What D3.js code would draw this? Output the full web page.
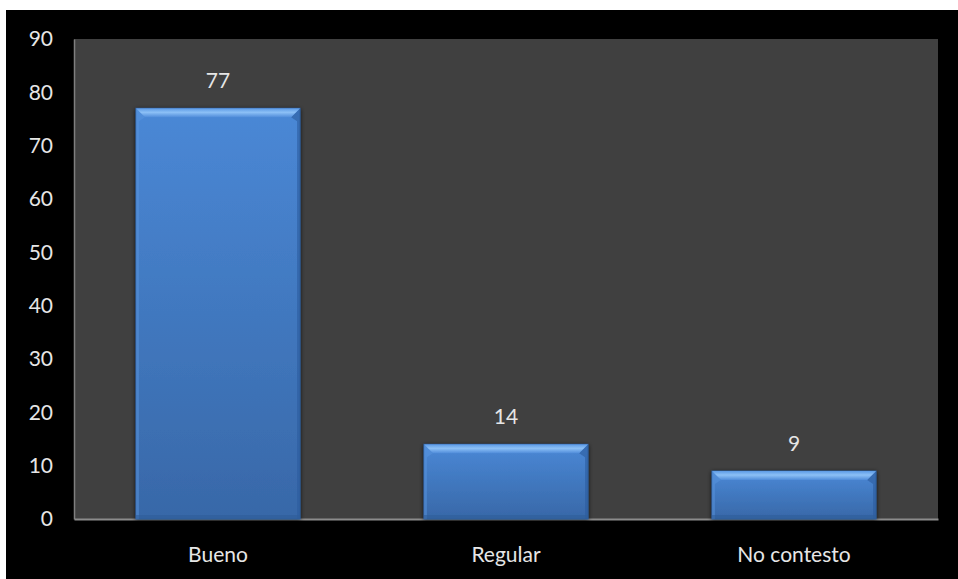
<!DOCTYPE html>
<html>
<head>
<meta charset="utf-8">
<script src="https://cdn.jsdelivr.net/npm/d3@7"></script>
<style>
  html, body { margin: 0; padding: 0; background: #ffffff; }
  svg { display: block; }
</style>
</head>
<body>
<svg id="chart" width="958" height="579"></svg>
<script>
// Survey responses
const categories = ["Bueno", "Regular", "No contesto"];
const values = [77, 14, 9];
const yTicks = [0, 10, 20, 30, 40, 50, 60, 70, 80, 90];

const W = 958, H = 579;
const plot = { left: 74, right: 938, top: 39, bottom: 519 };

const svg = d3.select("#chart");
const defs = svg.append("defs");

// Bar body gradient: bright at the top, deeper blue toward the base
const body = defs.append("linearGradient").attr("id", "barBody")
  .attr("x1", 0).attr("y1", 0).attr("x2", 0).attr("y2", 1);
body.append("stop").attr("offset", "0%").attr("stop-color", "#4a88d6");
body.append("stop").attr("offset", "100%").attr("stop-color", "#3868a8");

const topBevel = defs.append("linearGradient").attr("id", "topBevel")
  .attr("x1", 0).attr("y1", 0).attr("x2", 0).attr("y2", 1);
topBevel.append("stop").attr("offset", "0%").attr("stop-color", "#5c9ae6");
topBevel.append("stop").attr("offset", "45%").attr("stop-color", "#8cc0f6");
topBevel.append("stop").attr("offset", "100%").attr("stop-color", "#4f8cda");

const shadow = defs.append("filter").attr("id", "barShadow")
  .attr("x", "-10%").attr("y", "-10%").attr("width", "120%").attr("height", "120%");
shadow.append("feGaussianBlur").attr("in", "SourceAlpha").attr("stdDeviation", 2).attr("result", "b");
shadow.append("feOffset").attr("in", "b").attr("dx", 0).attr("dy", 1).attr("result", "o");
shadow.append("feComponentTransfer").attr("in", "o").attr("result", "s")
  .append("feFuncA").attr("type", "linear").attr("slope", 0.7);
const merge = shadow.append("feMerge");
merge.append("feMergeNode").attr("in", "s");
merge.append("feMergeNode").attr("in", "SourceGraphic");

// Frame
svg.append("rect").attr("x", 0).attr("y", 0).attr("width", W).attr("height", H).attr("fill", "#ffffff");
svg.append("rect").attr("x", 6).attr("y", 10).attr("width", W - 6).attr("height", H - 10).attr("fill", "#000000");
svg.append("rect")
  .attr("x", plot.left).attr("y", plot.top)
  .attr("width", plot.right - plot.left).attr("height", plot.bottom - plot.top)
  .attr("fill", "#404040");

const x = d3.scaleBand().domain(categories).range([plot.left, plot.right])
  .paddingInner(0.43).paddingOuter(0.215);
const y = d3.scaleLinear().domain([0, 90]).range([plot.bottom, plot.top]);

const font = "Lato, 'Open Sans', sans-serif";
const fs = 21;

// Y axis
const yAxis = d3.axisLeft(y).tickValues(yTicks).tickSize(0).tickPadding(21);
const yg = svg.append("g").attr("transform", `translate(${plot.left},0)`).call(yAxis);
yg.select(".domain").attr("stroke", "#7f7f7f").attr("stroke-width", 1.5);
yg.selectAll("text").attr("fill", "#e6e6e6").attr("font-family", font).attr("font-size", fs);

// X axis
const xAxis = d3.axisBottom(x).tickSize(0).tickPadding(28);
const xg = svg.append("g").attr("transform", `translate(0,${plot.bottom})`).call(xAxis);
xg.select(".domain").attr("stroke", "#8c8c8c").attr("stroke-width", 2);
xg.selectAll("text").attr("fill", "#e6e6e6").attr("font-family", font).attr("font-size", fs);

// Bars with bevelled edges
const bw = x.bandwidth();
const bars = svg.append("g").selectAll("g.bar").data(categories.map((c, i) => ({ c, v: values[i] })))
  .join("g").attr("class", "bar");

bars.append("rect")
  .attr("x", d => x(d.c)).attr("y", d => y(d.v))
  .attr("width", bw).attr("height", d => y(0) - y(d.v))
  .attr("fill", "url(#barBody)")
  .attr("stroke", "#2e5c98").attr("stroke-width", 1)
  .attr("filter", "url(#barShadow)");

const bv = 9; // bevel depth
const side = 3; // side edge width
bars.append("path")
  .attr("d", d => {
    const x0 = x(d.c), t = y(d.v), b = y(0);
    return `M${x0},${t}L${x0 + bv},${t + bv}L${x0 + side},${t + bv + 4}L${x0 + side},${b}L${x0},${b}Z`;
  })
  .attr("fill", "#5a96e0").attr("opacity", 0.5);
bars.append("path")
  .attr("d", d => {
    const x1 = x(d.c) + bw, t = y(d.v), b = y(0);
    return `M${x1},${t}L${x1 - bv},${t + bv}L${x1 - side},${t + bv + 4}L${x1 - side},${b}L${x1},${b}Z`;
  })
  .attr("fill", "#2c5c9c").attr("opacity", 0.6);
bars.append("path")
  .attr("d", d => {
    const x0 = x(d.c), x1 = x0 + bw, t = y(d.v);
    return `M${x0},${t}L${x1},${t}L${x1 - bv},${t + bv}L${x0 + bv},${t + bv}Z`;
  })
  .attr("fill", "url(#topBevel)");
bars.append("rect")
  .attr("x", d => x(d.c)).attr("y", d => y(0) - 4)
  .attr("width", bw).attr("height", 4)
  .attr("fill", "#2f5d99").attr("opacity", 0.6);

// Value labels
bars.append("text")
  .attr("x", d => x(d.c) + bw / 2).attr("y", d => y(d.v) - 20)
  .attr("text-anchor", "middle")
  .attr("fill", "#e6e6e6").attr("font-family", font).attr("font-size", fs)
  .text(d => d.v);
</script>
</body>
</html>
